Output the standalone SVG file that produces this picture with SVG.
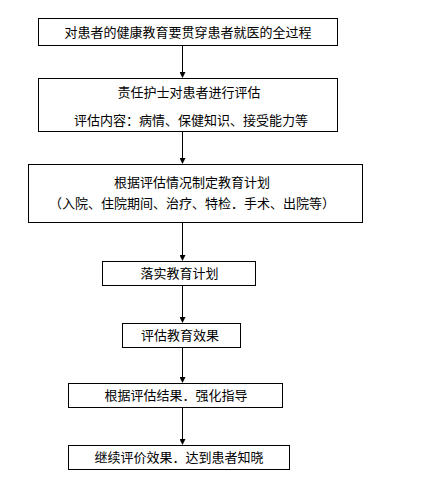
<svg xmlns="http://www.w3.org/2000/svg" width="424" height="498" viewBox="0 0 424 498">
<defs>
<style>
.box{fill:#fff;stroke:#000;stroke-width:1}
.t{font-family:"Noto Sans CJK SC","Noto Sans CJK JP",sans-serif;font-size:13px;fill:#000;text-anchor:middle}
.c{stroke:#000;stroke-width:1;fill:none}
</style>
<marker id="ah" markerWidth="6" markerHeight="6" refX="5" refY="3" orient="auto" markerUnits="userSpaceOnUse">
<path d="M0,0 L6,3 L0,6 Z" fill="#000"/>
</marker>
</defs>
<rect width="424" height="498" fill="#fff"/>
<g id="connectors">
<line class="c" x1="182.5" y1="45" x2="182.5" y2="77" marker-end="url(#ah)"/>
<line class="c" x1="182.5" y1="131" x2="182.5" y2="163" marker-end="url(#ah)"/>
<line class="c" x1="182.5" y1="223" x2="182.5" y2="260" marker-end="url(#ah)"/>
<line class="c" x1="182.5" y1="286" x2="182.5" y2="322" marker-end="url(#ah)"/>
<line class="c" x1="182.5" y1="348" x2="182.5" y2="382" marker-end="url(#ah)"/>
<line class="c" x1="182.5" y1="408" x2="182.5" y2="444" marker-end="url(#ah)"/>
</g>
<g id="n1"><rect class="box" x="38.5" y="18.5" width="299" height="27"/><text class="t" x="188" y="36.5">对患者的健康教育要贯穿患者就医的全过程</text></g>
<g id="n2"><rect class="box" x="38.5" y="78.5" width="299" height="53"/><text class="t" x="189" y="97">责任护士对患者进行评估</text><text class="t" x="191" y="125">评估内容：病情、保健知识、接受能力等</text></g>
<g id="n3"><rect class="box" x="28.5" y="164.5" width="334" height="58"/><text class="t" x="192" y="187">根据评估情况制定教育计划</text><text class="t" x="192" y="208">（入院、住院期间、治疗、特检．手术、出院等）</text></g>
<g id="n4"><rect class="box" x="102.5" y="261.5" width="153" height="24"/><text class="t" x="179.5" y="278">落实教育计划</text></g>
<g id="n5"><rect class="box" x="122.5" y="323.5" width="118" height="24"/><text class="t" x="180" y="340">评估教育效果</text></g>
<g id="n6"><rect class="box" x="68.5" y="383.5" width="214" height="24"/><text class="t" x="176" y="400">根据评估结果．强化指导</text></g>
<g id="n7"><rect class="box" x="68.5" y="445.5" width="221" height="24"/><text class="t" x="179" y="462">继续评价效果．达到患者知晓</text></g>
</svg>
